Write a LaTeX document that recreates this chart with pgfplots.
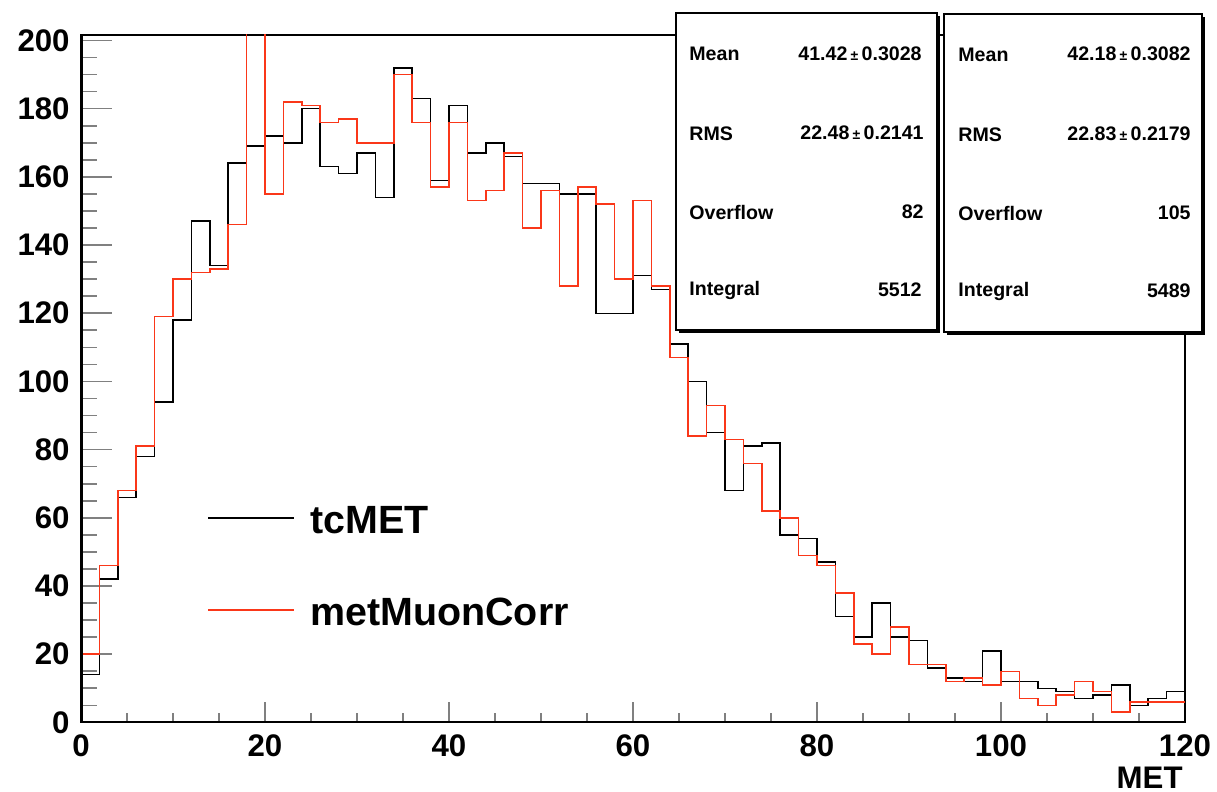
\documentclass[border=0pt]{standalone}
\usepackage{fontspec}
\setmainfont{Liberation Sans}
\usepackage{pgfplots}
\pgfplotsset{compat=1.18}
\definecolor{rootred}{RGB}{250,55,25}
\newcommand{\pmsmall}{\,{\fontsize{7}{8}\selectfont ±}\,}

\pgfplotstableread{
x y
0 14
2 42
4 66
6 78
8 94
10 118
12 147
14 134
16 164
18 169
20 172
22 170
24 180
26 163
28 161
30 167
32 154
34 192
36 183
38 159
40 181
42 167
44 170
46 166
48 158
50 158
52 155
54 155
56 120
58 120
60 131
62 127
64 111
66 100
68 85
70 68
72 81
74 82
76 55
78 54
80 47
82 31
84 25
86 35
88 25
90 24
92 16
94 13
96 12
98 21
100 12
102 12
104 10
106 9
108 7
110 8
112 11
114 5
116 7
118 9
120 9
}\tcmet

\pgfplotstableread{
x y
0 20
2 46
4 68
6 81
8 119
10 130
12 132
14 133
16 146
18 250
20 155
22 182
24 181
26 176
28 177
30 170
32 170
34 190
36 176
38 157
40 176
42 153
44 156
46 167
48 145
50 156
52 128
54 157
56 152
58 130
60 153
62 128
64 107
66 84
68 93
70 83
72 76
74 62
76 60
78 49
80 46
82 38
84 23
86 20
88 28
90 17
92 17
94 12
96 13
98 11
100 15
102 7
104 5
106 8
108 12
110 9
112 3
114 6
116 6
118 6
120 6
}\metmuon

\begin{document}
\begin{tikzpicture}
\begin{axis}[
  at={(0,0)}, anchor=origin,
  scale only axis, width=552pt, height=343.85pt,
  xmin=0, xmax=120, ymin=0, ymax=201.7,
  xtick={0,20,...,120}, ytick={0,20,...,200},
  minor tick num=3,
  tick align=inside, xtick pos=bottom, ytick pos=left,
  xtick style={/pgfplots/major tick length=10pt,/pgfplots/minor tick length=4.5pt, line width=0.8pt},
  ytick style={/pgfplots/major tick length=15.5pt,/pgfplots/minor tick length=8pt, line width=0.8pt},
  /pgf/number format/assume math mode=true,
  tick label style={font=\fontsize{15.6}{18}\selectfont\bfseries},
  yticklabel style={inner sep=0pt, xshift=-5.5pt},
  xticklabel style={inner sep=0pt, yshift=-5.8pt},
  xlabel={MET},
  xlabel style={at={(rel axis cs:1,0)}, anchor=north east, inner sep=0pt, yshift=-22pt, xshift=-1pt, font=\fontsize{15.6}{18}\selectfont\bfseries},
  axis line style={line width=1pt},
]
\addplot[const plot mark left, black, line width=0.75pt] table[x=x,y=y] {\tcmet};
\addplot[const plot mark left, rootred, line width=0.75pt] table[x=x,y=y] {\metmuon};
\draw[line width=1.6pt] (rel axis cs:0,1) -- (rel axis cs:0,0) -- (rel axis cs:1,0);
\end{axis}
\begin{scope}[shift={(-40.5pt,361.2pt)}, x=0.5pt, y=-0.5pt]
  % legend
  \draw[black, line width=0.75pt] (208,518) -- (294,518);
  \node[anchor=west, inner sep=0pt, font=\fontsize{19.7}{22}\selectfont\bfseries] at (310,520) {tcMET};
  \draw[rootred, line width=0.75pt] (208,610) -- (294,610);
  \node[anchor=west, inner sep=0pt, font=\fontsize{19.7}{22}\selectfont\bfseries] at (310,612) {metMuonCorr};
  % stats box 1
  \fill[black] (679,16) rectangle (940,333);
  \draw[fill=white, line width=0.75pt] (676,13) rectangle (937,330);
  \begin{scope}[every node/.style={inner sep=0pt, font=\fontsize{9.8}{12}\selectfont\bfseries}]
    \node[anchor=west] at (689,54) {Mean};
    \node[anchor=east] at (922,54) {41.42\pmsmall 0.3028};
    \node[anchor=west] at (689,134) {RMS};
    \node[anchor=east] at (924,133) {22.48\pmsmall 0.2141};
    \node[anchor=west] at (689,213) {Overflow};
    \node[anchor=east] at (924,212) {82};
    \node[anchor=west] at (689,290) {Integral};
    \node[anchor=east] at (922,290) {5512};
  \end{scope}
  % stats box 2
  \fill[black] (947,17) rectangle (1205,335);
  \draw[fill=white, line width=0.75pt] (944,14) rectangle (1202,332);
  \begin{scope}[every node/.style={inner sep=0pt, font=\fontsize{9.8}{12}\selectfont\bfseries}]
    \node[anchor=west] at (958,55) {Mean};
    \node[anchor=east] at (1191,54) {42.18\pmsmall 0.3082};
    \node[anchor=west] at (958,135) {RMS};
    \node[anchor=east] at (1191,134) {22.83\pmsmall 0.2179};
    \node[anchor=west] at (958,214) {Overflow};
    \node[anchor=east] at (1191,213) {105};
    \node[anchor=west] at (958,291) {Integral};
    \node[anchor=east] at (1191,291) {5489};
  \end{scope}
  \pgfresetboundingbox
  \path[use as bounding box] (0,0) rectangle (1217,792);
\end{scope}
\end{tikzpicture}
\end{document}
